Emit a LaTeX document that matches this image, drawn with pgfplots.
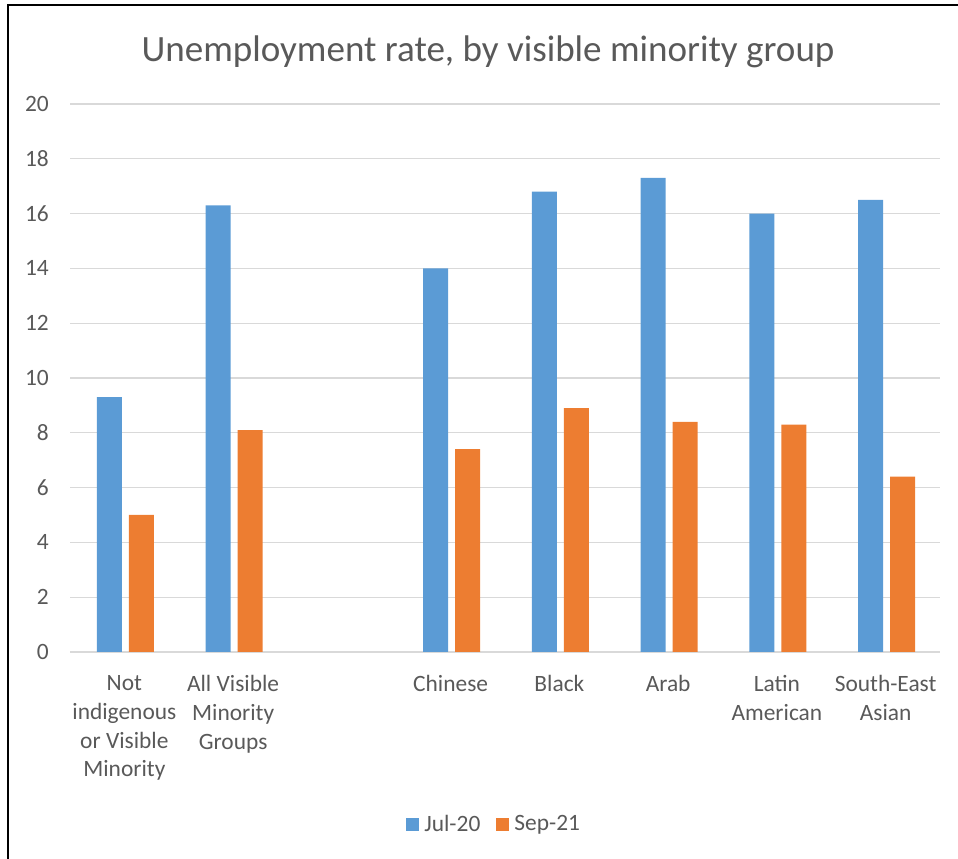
\documentclass[border=0pt]{standalone}
\usepackage{pgfplots}
\pgfplotsset{compat=1.18}
\usepackage{pgfplotstable}
\usepackage{fontspec}
\setmainfont{Carlito}
\definecolor{xblue}{HTML}{5B9BD5}
\definecolor{xorange}{HTML}{ED7D31}
\definecolor{xtext}{HTML}{595959}
\definecolor{xgrid}{HTML}{D9D9D9}
\pgfplotstableread{
x jul sep
0 9.3 5.0
1 16.3 8.1
3 14.0 7.4
4 16.8 8.9
5 17.3 8.4
6 16.0 8.3
7 16.5 6.4
}\datatable
\begin{document}
\begin{tikzpicture}[x=1bp,y=1bp]
\useasboundingbox (0,0) rectangle (958,859);
\draw[black, line width=2bp] (8,0) -- (8,854) -- (958,854);
\node[anchor=base, text=xtext, font=\fontsize{37.2}{44}\selectfont] at (488,797) {Unemployment rate, by visible minority group};
\begin{axis}[
  at={(70bp,207bp)}, anchor=south west,
  scale only axis, width=870bp, height=548bp,
  xmin=-0.5, xmax=7.5, ymin=0, ymax=20,
  ytick={0,2,...,20},
  xtick={0,1,3,4,5,6,7},
  xticklabels={{Not\\indigenous\\or Visible\\Minority},{All Visible\\Minority\\Groups},Chinese,Black,Arab,{Latin\\American},{South-East\\Asian}},
  axis line style={draw=none},
  major tick length=0pt,
  ymajorgrids, grid style={color=xgrid, line width=1.3bp},
  tick label style={text=xtext},
  /pgf/number format/assume math mode=true,
  yticklabel style={font=\fontsize{23.5}{29}\selectfont, inner sep=0pt, xshift=-21bp},
  xticklabel style={font=\fontsize{23.5}{29}\selectfont, align=center, inner sep=0pt, yshift=-23bp},
  ybar=7bp, bar width=25bp,
  legend columns=2,
  legend style={at={(0.487,-0.314)}, anchor=center, draw=none, fill=none,
    font=\fontsize{23.5}{29}\selectfont, text=xtext,
    nodes={inner sep=1.5bp},
    /tikz/every odd column/.append style={column sep=4bp},
    /tikz/every even column/.append style={column sep=14bp}},
  legend image code/.code={\path[#1, draw=none] (0bp,-6.5bp) rectangle (13bp,6.5bp);},
]
\addplot[fill=xblue, draw=none, bar shift=-15bp] table[x=x, y=jul] {\datatable};
\addplot[fill=xorange, draw=none, bar shift=17bp] table[x=x, y=sep] {\datatable};
\legend{Jul-20, Sep-21}
\end{axis}
\end{tikzpicture}
\end{document}
